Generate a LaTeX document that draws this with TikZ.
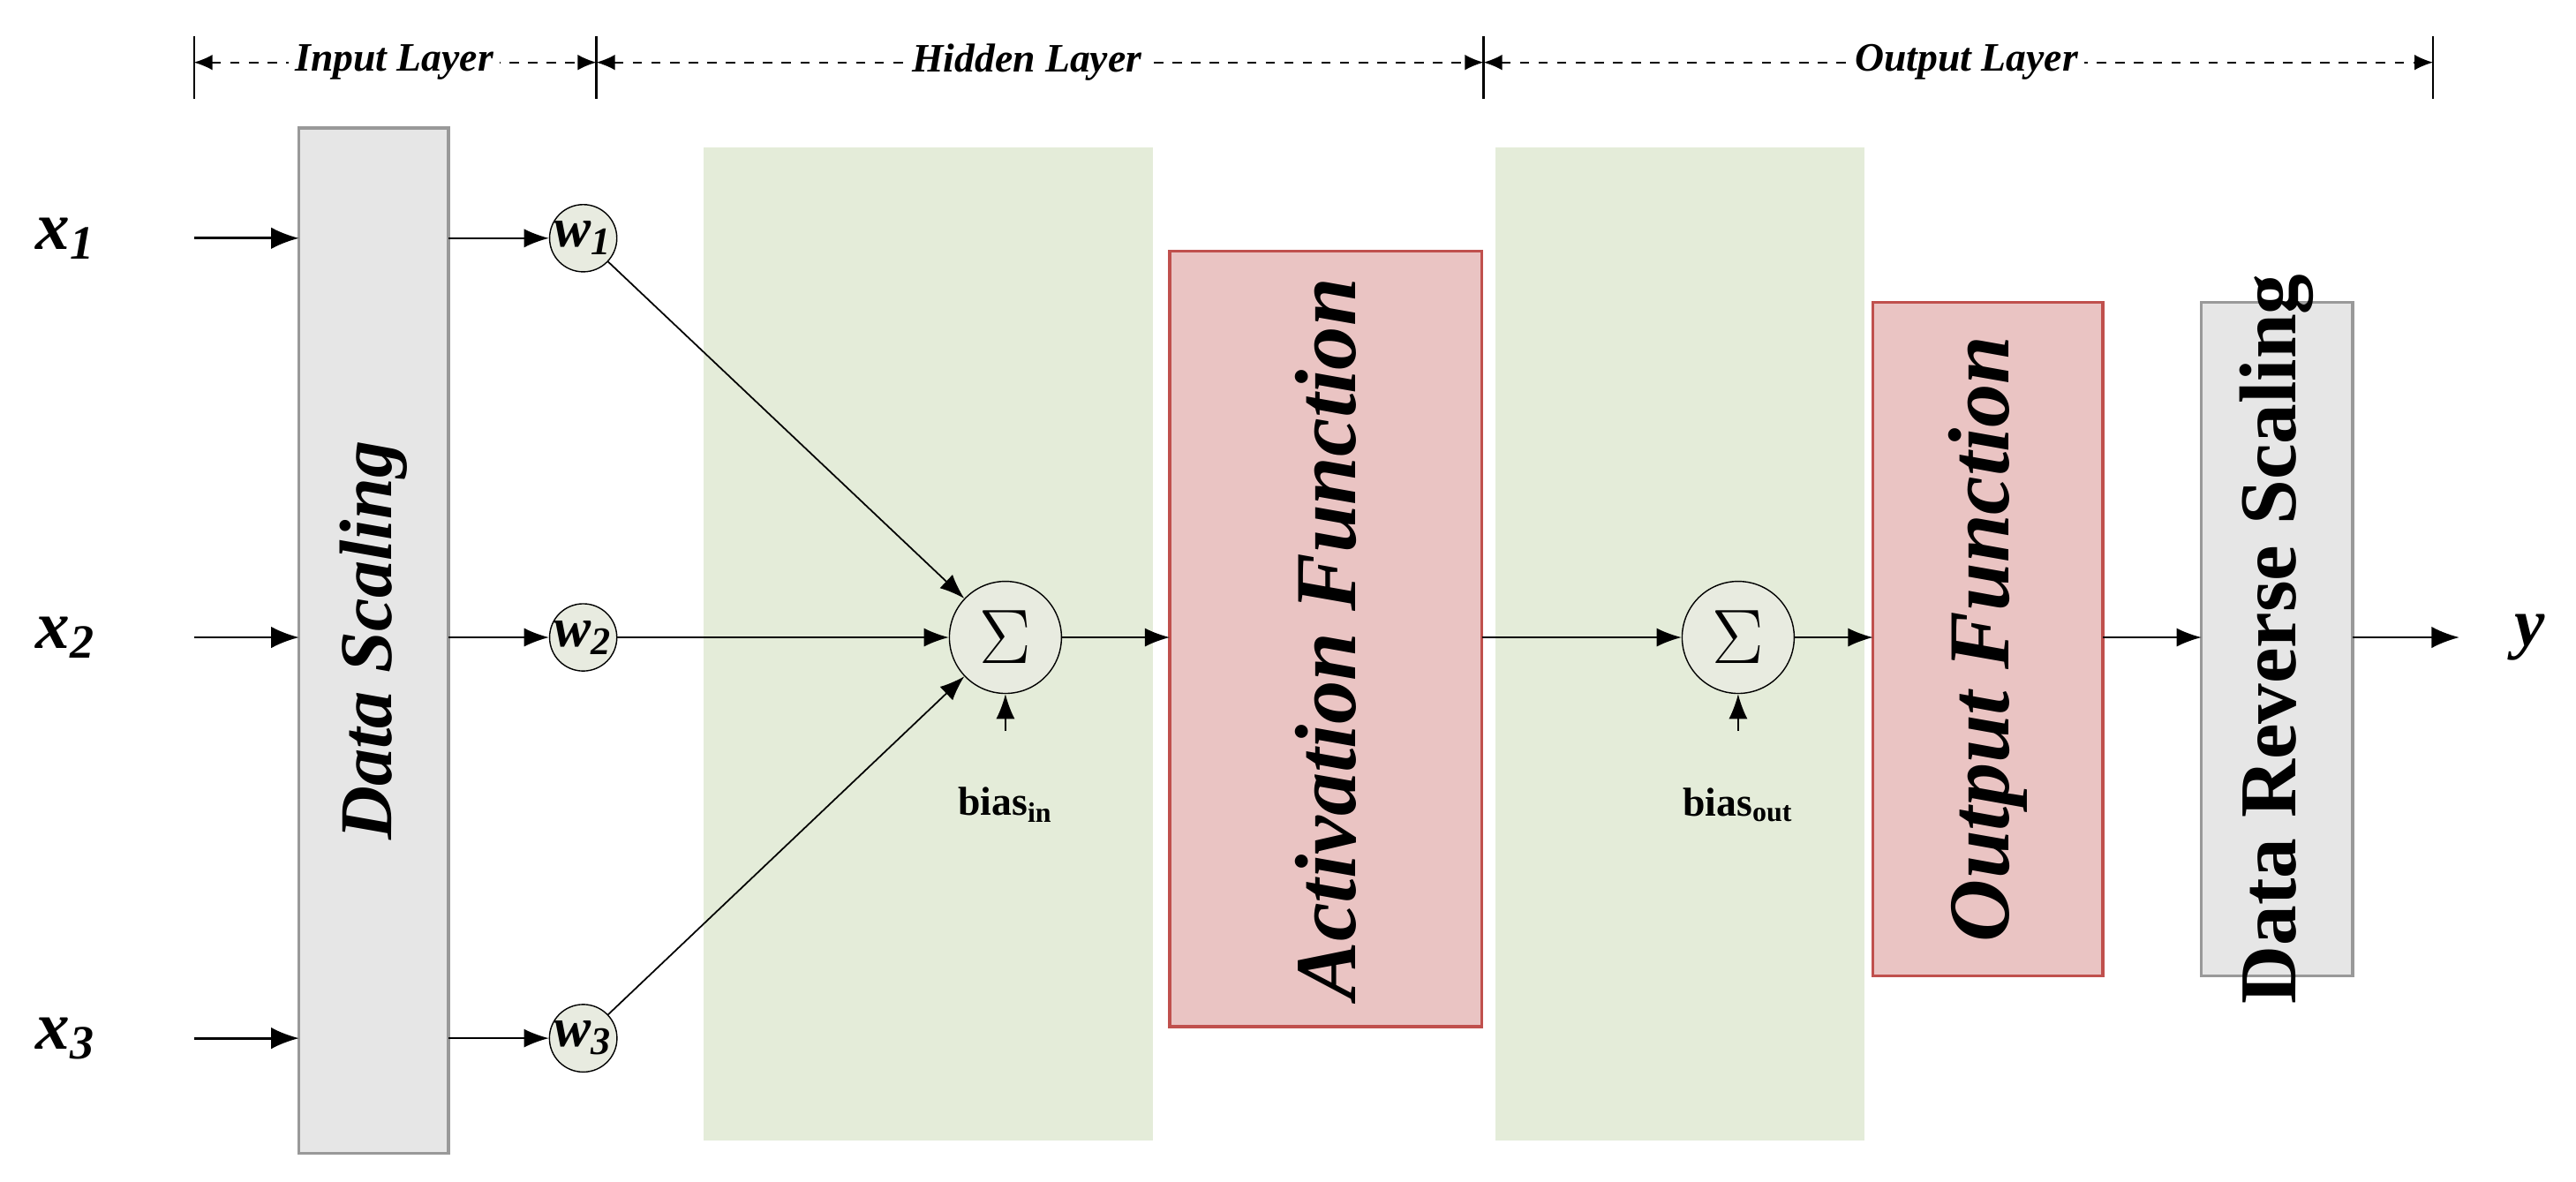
\documentclass[tikz,border=0pt]{standalone}
\usepackage{fontspec}
\setmainfont{Liberation Serif}
\usetikzlibrary{arrows.meta}
\definecolor{grn}{HTML}{E4ECD9}
\definecolor{pnk}{HTML}{EAC4C3}
\definecolor{red2}{HTML}{C0504D}
\definecolor{gry}{HTML}{E6E6E6}
\definecolor{sig}{HTML}{E8EBE0}
\begin{document}
\begin{tikzpicture}[x=0.01861cm,y=-0.01861cm,
  arr/.style={-{Latex[length=9pt,width=7pt]},line width=0.8pt},
  thin/.style={-{Latex[length=8pt,width=6pt]},line width=0.5pt},
  dim/.style={{Latex[length=6pt,width=5pt]}-{Latex[length=6pt,width=5pt]},dashed,line width=0.5pt},
  gbox/.style={draw=gray!80,fill=gry,line width=1pt},
  rbox/.style={draw=red2,fill=pnk,line width=1pt},
  wc/.style={circle,draw,fill=sig,minimum size=0.74cm,inner sep=0pt,font=\bfseries\itshape\fontsize{18}{18}\selectfont},
  sc/.style={circle,draw,fill=sig,minimum size=1.27cm,inner sep=0pt,font=\fontsize{26}{26}\selectfont},
  xl/.style={font=\bfseries\itshape\fontsize{22}{22}\selectfont},
  ll/.style={fill=white,inner sep=2pt,font=\bfseries\itshape\fontsize{13}{13}\selectfont},
  bt/.style={font=\bfseries\itshape\fontsize{24}{24}\selectfont,rotate=90}]
\useasboundingbox (0,0) rectangle (1568,719);
% dimension line
\foreach \x/\n in {118/t1,363/t2,903/t3,1481/t4}{\draw[line width=0.6pt] (\x,22)--(\x,60); \coordinate (\n) at (\x,38);}
\draw[dim] (t1)--(t2); \draw[dim] (t2)--(t3); \draw[dim] (t3)--(t4);
\node[ll] at (240,38) {Input Layer};
\node[ll] at (625,38) {Hidden Layer};
\node[ll] at (1197,38) {Output Layer};
% backgrounds
\fill[grn] (428,90) rectangle (702,694);
\fill[grn] (910,90) rectangle (1135,694);
% boxes
\draw[gbox] (182,78) rectangle (273,702);
\node[bt] (ds) at (227.5,390) {Data Scaling};
\coordinate (dsL1) at (182,145);\coordinate (dsR1) at (273,145);
\coordinate (dsL2) at (182,388);\coordinate (dsR2) at (273,388);
\coordinate (dsL3) at (182,632);\coordinate (dsR3) at (273,632);
\draw[rbox] (712,153) rectangle (902,625);
\node[bt,font=\bfseries\itshape\fontsize{28}{28}\selectfont] (af) at (807,389) {Activation Function};
\coordinate (afL) at (712,388);\coordinate (afR) at (902,388);
\draw[rbox] (1140,184) rectangle (1280,594);
\node[bt,font=\bfseries\itshape\fontsize{28}{28}\selectfont] (of) at (1210,389) {Output Function};
\coordinate (ofL) at (1140,388);\coordinate (ofR) at (1280,388);
\draw[gbox] (1340,184) rectangle (1432,594);
\node[rotate=90,font=\bfseries\fontsize{26}{26}\selectfont] (dr) at (1386,389) {Data Reverse Scaling};
\coordinate (drL) at (1340,388);\coordinate (drR) at (1432,388);
% inputs
\foreach \i/\y in {1/145,2/388,3/632}{
  \node[xl] (x\i) at (40,\y) {x\textsubscript{\i}};
  \coordinate (xe\i) at (118,\y);
  \draw[arr] (xe\i)--(dsL\i);
  \node[wc] (w\i) at (355,\y) {w\textsubscript{\i}};
  \draw[thin] (dsR\i)--(w\i);
}
\node[sc] (s1) at (612,388) {$\Sigma$};
\node[sc] (s2) at (1058,388) {$\Sigma$};
\foreach \i in {1,2,3}{\draw[thin] (w\i)--(s1);}
\draw[thin] (s1)--(afL);
\draw[thin] (afR)--(s2);
\draw[thin] (s2)--(ofL);
\draw[thin] (ofR)--(drL);
\node[xl] (y) at (1540,388) {y};
\draw[arr] (drR)--(1497,388) coordinate (ye);
\coordinate (b1) at (612,445); \coordinate (b2) at (1058,445);
\draw[thin] (b1)--(s1); \draw[thin] (b2)--(s2);
\node[font=\bfseries\fontsize{13}{13}\selectfont] (bi) at (612,490) {bias\textsubscript{in}};
\node[font=\bfseries\fontsize{13}{13}\selectfont] (bo) at (1058,490) {bias\textsubscript{out}};
\end{tikzpicture}
\end{document}
